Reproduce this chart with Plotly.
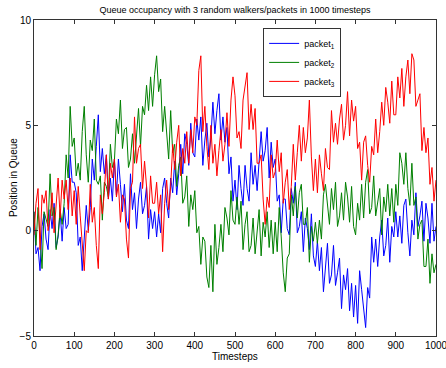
import plotly.graph_objects as go

step = 5
timesteps = list(range(0, 1001, step))

packet1 = [
    0.9, -1.1, -0.8, -1.9, 0.2, 0.8, -0.4, -0.9, 1.0, 0.1, 1.3, -0.8, -0.3, 0.9, -0.5, 1.1, 0.1, 0.3, 3.6, 2.3,
    2.3, 1.8, -0.7, -0.3, -1.9, -0.2, 1.2, 0.0, 1.1, 3.4, 2.4, 4.0, 5.5, 2.8, 3.9, 2.7, 3.6, 1.5, 2.5, 1.4,
    3.4, 1.7, 3.4, 2.2, 0.9, 2.2, 0.5, 0.1, 2.7, 1.0, 1.8, 0.1, 1.5, 2.3, 0.8, 1.2, 2.1, -0.4, 1.0, 0.1,
    0.9, -0.3, 0.8, -0.1, 2.0, 2.5, 1.3, 0.6, 2.5, 1.8, 3.3, 1.7, 2.7, 4.1, 2.7, 4.6, 4.1, 3.1, 5.1, 3.7,
    3.5, 5.3, 4.3, 5.4, 3.1, 4.3, 5.1, 3.5, 4.4, 6.1, 4.6, 5.7, 6.5, 4.3, 5.4, 4.2, 4.9, 2.7, 3.5, 1.4,
    2.4, 1.0, 3.1, 2.0, 1.2, 3.1, 2.0, 1.4, 3.7, 2.2, 3.1, 1.9, 3.5, 4.7, 3.3, 3.8, 4.9, 2.5, 4.2, 3.0,
    3.4, 1.4, 1.7, -0.1, 1.5, 1.5, 0.1, -0.2, 2.0, 1.3, 2.3, -0.1, 0.2, 0.9, -1.0, 0.6, 0.1, -0.9, 0.8, -1.2,
    -1.7, -0.5, -1.9, -0.8, -2.9, -1.5, -0.6, -2.5, -2.1, -0.7, -2.6, -2.0, -1.3, -3.7, -2.1, -2.8, -1.8, -3.8, -2.5, -4.1,
    -2.6, -4.4, -1.9, -2.8, -3.6, -4.6, -2.7, -3.2, -0.3, -1.5, -0.4, -1.7, -0.3, 0.5, -1.2, -0.7, 0.6, -1.5, 0.2, -0.3,
    0.9, -0.3, 0.7, -0.6, 1.2, 1.5, -0.1, -1.2, 0.5, -0.2, 1.8, 0.2, 0.7, 1.4, -0.5, 1.3, 0.6, -0.6, 1.3, -0.5,
    0.2,
]

packet2 = [
    0.9, -0.7, 1.1, -0.3, -1.8, 0.9, 0.5, 0.2, 2.7, 0.7, 1.1, -0.9, -0.2, 1.0, 0.3, 1.3, 3.6, 2.5, 5.9, 4.0,
    4.4, 2.6, 3.2, 2.4, 4.7, 5.9, 3.6, 2.3, 4.3, 3.8, 5.3, 2.4, 2.2, 2.6, 0.5, 2.3, 2.1, 1.6, 4.1, 3.0,
    3.3, 5.3, 4.6, 6.2, 3.9, 4.8, 4.9, 3.0, 3.4, 4.6, 3.2, 4.4, 5.8, 4.0, 5.9, 5.5, 6.9, 5.7, 7.3, 5.9,
    7.4, 8.3, 6.6, 7.2, 4.7, 5.9, 4.5, 3.4, 5.7, 3.7, 4.1, 2.1, 3.1, 3.5, 1.3, 1.6, 2.6, 0.2, 1.7, 1.0,
    1.9, -0.1, 0.2, -1.6, -0.3, -0.5, -2.2, -2.7, -0.7, -2.9, 0.3, -1.6, -0.8, 0.3, -1.0, 1.1, 0.6, -0.2, 1.9, 0.5,
    0.3, 1.6, 0.3, 1.4, -0.9, 0.3, 0.9, -1.0, -0.7, 0.6, -1.1, -0.1, 1.0, -1.2, 0.4, -0.3, 0.9, -0.8, 0.5, -1.1,
    0.4, -1.0, 1.1, -0.3, -2.0, -2.9, -1.3, -1.1, 1.7, 0.7, 2.1, 0.6, 1.8, 2.2, 0.3, 0.3, 1.1, -1.5, 0.2, -0.5,
    0.4, -0.6, 0.5, -0.4, 1.7, 2.2, 1.1, 0.3, 2.0, 1.0, 2.3, 0.2, 0.7, 1.8, 0.5, 2.3, 1.6, 0.4, 2.1, 0.2,
    -0.2, 1.3, 0.5, 2.2, 0.6, 2.3, 2.9, 0.8, 1.1, 2.6, 0.7, 1.4, 2.0, -0.2, 1.6, 0.9, 2.2, 0.7, 2.0, 0.4,
    2.2, 1.2, 3.7, 3.2, 2.2, 3.7, 2.0, 1.2, 3.2, 1.2, 1.6, -0.4, 0.3, 0.5, -1.7, -1.7, -0.4, -2.5, -1.1, -2.0,
    -1.6,
]

packet3 = [
    -0.2, 1.3, 2.0, -0.9, 1.7, 1.3, 1.9, 0.0, 0.6, 1.8, -0.1, 1.2, 2.5, 0.6, 2.4, 1.5, 2.4, 1.0, 2.5, 0.7,
    1.9, 0.3, 2.1, 0.7, -0.8, -1.9, 0.0, -0.1, 2.2, 0.4, 1.1, -0.7, -1.8, 1.7, 0.8, 1.8, 3.6, 1.5, 3.2, 2.5,
    3.4, 1.6, 2.2, 0.4, 1.7, 1.5, -0.4, -1.3, 2.0, 2.3, 5.4, 3.2, 3.9, 4.1, 2.0, 3.3, 2.1, 0.6, 2.6, 1.3,
    1.3, 2.3, 0.8, 1.7, -1.0, 1.3, 2.4, 1.0, 2.1, 4.1, 2.9, 4.2, 5.0, 2.6, 3.9, 3.2, 4.7, 3.2, 4.8, 3.7,
    5.4, 5.0, 7.6, 8.3, 4.7, 5.9, 4.0, 2.9, 5.0, 3.2, 4.1, 2.6, 3.8, 4.8, 3.3, 4.1, 5.6, 4.0, 6.2, 7.3,
    6.4, 4.4, 4.7, 3.9, 6.2, 7.0, 7.5, 4.8, 6.0, 4.8, 5.8, 3.2, 3.2, 3.6, 1.5, 0.3, 1.6, 1.1, 3.6, 2.5,
    2.8, 4.3, 2.8, 3.7, 1.3, 2.3, 2.9, 1.0, 2.1, 4.1, 2.4, 3.7, 5.0, 3.3, 4.9, 3.7, 4.4, 6.2, 3.5, 1.9,
    3.4, 1.8, 3.6, 2.7, 1.9, 3.9, 3.0, 2.9, 5.7, 4.2, 5.1, 4.1, 5.3, 6.0, 4.3, 5.0, 6.6, 4.5, 6.2, 5.2,
    5.9, 3.9, 4.2, 2.4, 4.2, 4.5, 3.1, 2.3, 4.0, 3.6, 5.3, 3.7, 4.7, 6.1, 5.0, 6.8, 6.1, 5.1, 7.1, 5.5,
    5.5, 7.3, 6.3, 7.7, 5.9, 7.3, 8.1, 6.5, 8.4, 8.1, 5.9, 6.2, 6.5, 3.8, 4.9, 3.7, 4.4, 2.2, 3.0, 1.4,
    2.4,
]

series_names = ["packet<sub>1</sub>", "packet<sub>2</sub>", "packet<sub>3</sub>"]
series_colors = ["#0000ff", "#008000", "#ff0000"]
x_ticks = list(range(0, 1001, 100))
y_ticks = [-5, 0, 5, 10]

FONT = "Liberation Sans, Arial, sans-serif"

fig = go.Figure()
for name, vals, col in zip(series_names, [packet1, packet2, packet3], series_colors):
    fig.add_trace(go.Scatter(x=timesteps, y=vals, mode="lines", name=name,
                             line=dict(color=col, width=1)))

axis_common = dict(showgrid=False, zeroline=False, showline=True, linecolor="#333333",
                   linewidth=1, mirror="ticks", ticks="inside", ticklen=4,
                   tickcolor="#333333", ticklabeloverflow="allow", automargin=False,
                   tickfont=dict(size=10, color="#000000"))

fig.update_layout(
    width=446, height=368,
    margin=dict(l=34, r=10, t=20, b=32),
    paper_bgcolor="white", plot_bgcolor="white",
    font=dict(family=FONT, size=10, color="#000000"),
    title=dict(text="Queue occupancy with 3 random walkers/packets in 1000 timesteps",
               x=0.527, xanchor="center", y=0.972, yanchor="middle",
               font=dict(size=9)),
    xaxis=dict(range=[0, 1000], tickvals=x_ticks, **axis_common),
    yaxis=dict(range=[-5, 10], tickvals=y_ticks, **axis_common),
    legend=dict(x=0.57, y=0.975, xanchor="left", yanchor="top",
                bgcolor="white", bordercolor="#333333", borderwidth=1,
                font=dict(size=9), tracegroupgap=0, itemwidth=30),
    showlegend=True,
    annotations=[
        dict(text="Timesteps", xref="paper", yref="paper", x=0.5, y=-0.066,
             xanchor="center", yanchor="middle", showarrow=False,
             font=dict(size=10)),
        dict(text="Position in Queue", xref="paper", yref="paper", x=-0.052, y=0.5,
             xanchor="center", yanchor="middle", textangle=-90, showarrow=False,
             font=dict(size=10)),
    ],
)

fig.write_html("out.html")
